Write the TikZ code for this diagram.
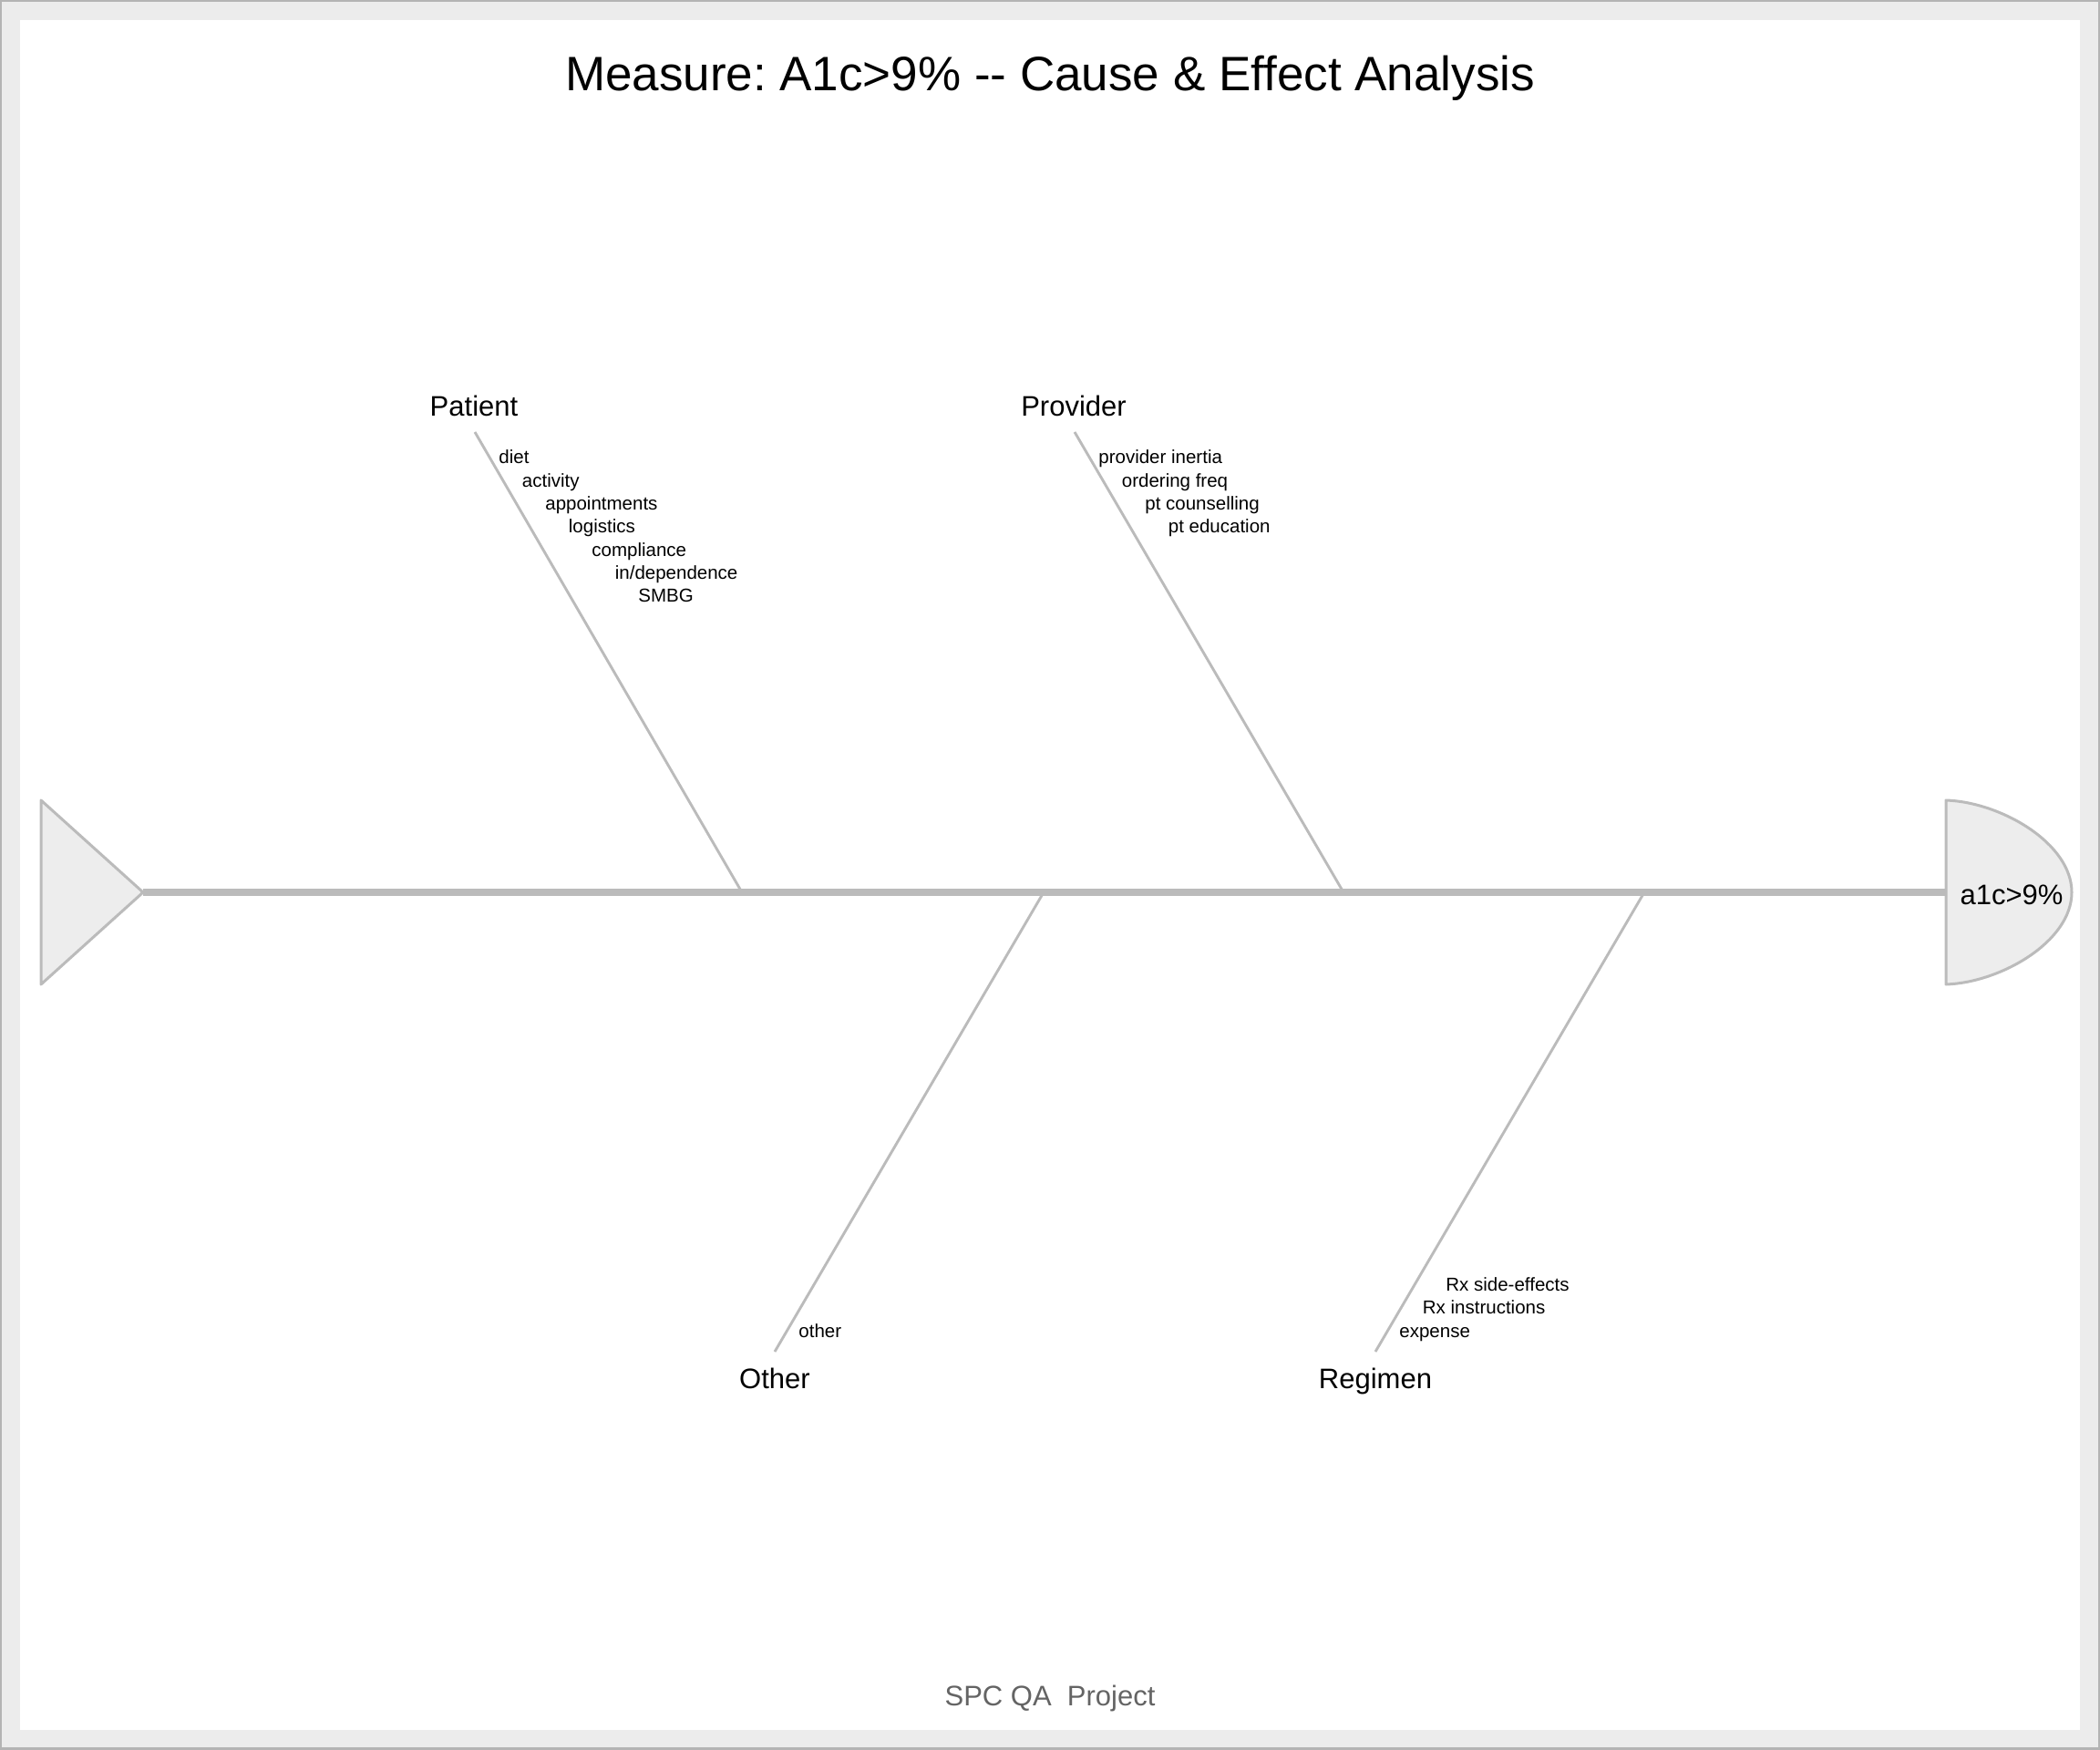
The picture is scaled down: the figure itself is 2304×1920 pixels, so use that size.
\documentclass[tikz,border=0pt]{standalone}
\usepackage{fontspec}
\setmainfont{Liberation Sans}[Ligatures={NoCommon}]
\frenchspacing
\definecolor{framegrey}{HTML}{B4B4B4}
\definecolor{margingrey}{HTML}{ECECEC}
\definecolor{bonegrey}{HTML}{BBBBBB}
\definecolor{shapefill}{HTML}{EDEDED}
\definecolor{footgrey}{HTML}{646464}
\begin{document}
\begin{tikzpicture}[x=0.5pt,y=-0.5pt,
  titletext/.style={inner sep=0pt,anchor=base,font=\fontsize{26.5}{32}\selectfont},
  foottext/.style={inner sep=0pt,anchor=base,text=footgrey,font=\fontsize{15.5}{19}\selectfont},
  cattext/.style={inner sep=0pt,anchor=base,font=\fontsize{15.5}{19}\selectfont},
  subtext/.style={inner sep=0pt,anchor=base west,font=\fontsize{10.25}{12}\selectfont},
  spine/.style={draw=bonegrey,line width=3.9pt},
  bone/.style={draw=bonegrey,line width=1.45pt},
  endshape/.style={draw=bonegrey,fill=shapefill,line width=1.5pt,line join=round}]
\useasboundingbox (0,0) rectangle (2304,1920);
\fill[framegrey] (0,0) rectangle (2304,1920);
\fill[margingrey] (2,2) rectangle (2302,1917);
\fill[white] (22,22) rectangle (2282,1898);

% title and footer
\node[titletext] (title) at (1152,100) {Measure: A1c>9\% -{}- Cause \& Ef{}fect Analysis};
\node[foottext] (foot) at (1152,1871) {SPC QA\ \ Project};

% tail and head
\coordinate (tailtip) at (157,979);
\coordinate (headL) at (2135,979);
\path[endshape] (45,878) -- (tailtip) -- (45,1080) -- cycle;
\draw[spine] (tailtip) -- (headL);
\path[endshape] (2135,878) .. controls (2195,880) and (2273,925) .. (2273,979)
  .. controls (2273,1033) and (2195,1078) .. (2135,1080) -- cycle;
\node[cattext] (effect) at (2207,992) {a1c>9\%};

% branch coordinates
\coordinate (patTop) at (521,474);
\coordinate (patJ) at (814,979);
\coordinate (proTop) at (1179,474);
\coordinate (proJ) at (1474,979);
\coordinate (othBot) at (850,1483);
\coordinate (othJ) at (1145,979);
\coordinate (regBot) at (1509,1483);
\coordinate (regJ) at (1804,979);

\draw[bone] (patTop) -- (patJ);
\draw[bone] (proTop) -- (proJ);
\draw[bone] (othBot) -- (othJ);
\draw[bone] (regBot) -- (regJ);

% category labels
\node[cattext] (patient) at (520,457) {Patient};
\node[cattext] (provider) at (1178,457) {Provider};
\node[cattext] (other) at (850,1523) {Other};
\node[cattext] (regimen) at (1509,1523) {Regimen};

% patient causes
\node[subtext] (p1) at (547,509) {diet};
\node[subtext] (p2) at (572.5,534.3) {activity};
\node[subtext] (p3) at (598,559.6) {appointments};
\node[subtext] (p4) at (623.5,584.9) {logistics};
\node[subtext] (p5) at (649,610.2) {compliance};
\node[subtext] (p6) at (674.5,635.5) {in/dependence};
\node[subtext] (p7) at (700,660.8) {SMBG};

% provider causes
\node[subtext] (v1) at (1205,509) {provider inertia};
\node[subtext] (v2) at (1230.5,534.3) {ordering freq};
\node[subtext] (v3) at (1256,559.6) {pt counselling};
\node[subtext] (v4) at (1281.5,584.9) {pt education};

% other causes
\node[subtext] (o1) at (876,1467) {other};

% regimen causes
\node[subtext] (r1) at (1535,1467) {expense};
\node[subtext] (r2) at (1560.5,1441.7) {Rx instructions};
\node[subtext] (r3) at (1586,1416.4) {Rx side-effects};
\end{tikzpicture}
\end{document}
